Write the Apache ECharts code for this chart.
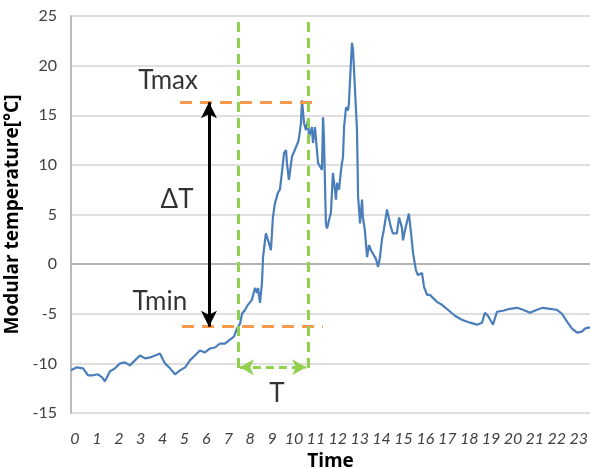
<!DOCTYPE html>
<html>
<head>
<meta charset="utf-8">
<script src="https://cdn.jsdelivr.net/npm/echarts@6/dist/echarts.min.js"></script>
<style>html,body{margin:0;padding:0;background:#fff}#c{width:590px;height:468px}</style>
</head>
<body>
<div id="c"></div>
<script>
// time in hours
const hours = [0.00,0.27,0.55,0.78,1.00,1.23,1.42,1.55,1.78,2.01,2.24,2.47,2.69,2.92,3.15,3.38,3.61,3.84,4.06,4.29,4.52,4.75,4.98,5.21,5.43,5.66,5.89,6.12,6.35,6.58,6.80,7.03,7.26,7.44,7.58,7.72,7.81,7.95,8.08,8.26,8.40,8.49,8.54,8.63,8.72,8.77,8.90,9.00,9.13,9.22,9.31,9.45,9.54,9.63,9.73,9.82,9.86,9.95,10.09,10.18,10.27,10.37,10.41,10.50,10.55,10.64,10.73,10.82,10.87,11.00,11.05,11.14,11.23,11.28,11.37,11.46,11.51,11.55,11.64,11.69,11.78,11.87,11.96,12.01,12.10,12.15,12.24,12.33,12.42,12.47,12.56,12.65,12.69,12.79,12.83,12.88,12.97,13.06,13.11,13.20,13.29,13.33,13.42,13.52,13.61,13.70,13.79,13.93,14.02,14.11,14.20,14.29,14.43,14.47,14.61,14.70,14.79,14.88,14.98,15.11,15.16,15.25,15.34,15.43,15.53,15.62,15.75,15.84,16.03,16.12,16.26,16.39,16.53,16.71,16.94,17.21,17.53,17.85,18.22,18.54,18.77,18.90,19.04,19.27,19.45,19.73,20.05,20.37,20.64,20.96,21.28,21.55,21.87,22.19,22.42,22.65,22.88,23.11,23.33,23.47,23.61,23.70];
// modular temperature [°C]
const temps = [-10.7,-10.4,-10.5,-11.2,-11.2,-11.1,-11.4,-11.8,-10.8,-10.5,-10.0,-9.9,-10.2,-9.7,-9.2,-9.5,-9.4,-9.2,-9.0,-10.0,-10.5,-11.1,-10.7,-10.4,-9.7,-9.2,-8.7,-8.9,-8.5,-8.4,-8.0,-8.0,-7.6,-7.3,-6.5,-6.0,-5.0,-4.6,-4.1,-3.6,-2.4,-2.9,-2.4,-3.9,-1.9,0.7,3.1,2.4,1.4,4.7,6.1,7.2,7.5,9.2,11.2,11.5,10.2,8.5,10.8,11.3,11.5,12.3,12.7,14.2,16.5,14.2,13.5,14.5,12.8,13.8,12.2,13.8,11.5,10.2,10.3,9.5,14.8,12.8,4.1,3.6,4.4,5.2,9.2,8.3,6.5,8.2,7.5,9.5,10.8,13.8,15.8,15.5,16.2,20.6,22.3,21.6,17.5,13.5,6.8,4.1,6.5,4.7,3.4,0.7,1.9,1.4,1.5,0.5,-0.3,0.7,2.5,3.5,5.5,5.4,3.7,3.1,3.2,3.1,4.7,3.7,2.4,3.4,3.4,5.1,3.1,1.1,-0.6,-1.1,-0.9,-2.3,-3.1,-3.1,-3.4,-3.8,-4.1,-4.6,-5.2,-5.6,-5.9,-6.1,-5.9,-4.9,-5.2,-6.1,-4.8,-4.7,-4.5,-4.4,-4.6,-4.9,-4.6,-4.4,-4.5,-4.6,-5.0,-5.8,-6.5,-6.9,-6.8,-6.5,-6.4,-6.4];
const yTicks = [-15,-10,-5,0,5,10,15,20,25];
const xTickLabels = ['0','1','2','3','4','5','6','7','8','9','10','11','12','13','14','15','16','17','18','19','20','21','22','23'];
// annotation values
const tMax = 16.3, tMin = -6.3;
const tStart = 7.63, tEnd = 10.82;
const annotTexts = [
  {x: 4.43, y: 18.5, t: 'Tmax'},
  {x: 4.84, y: 6.45, t: 'ΔT'},
  {x: 4.06, y: -3.8, t: 'Tmin'},
  {x: 9.4, y: -13.0, t: 'T'}
];

const chart = echarts.init(document.getElementById('c'));
const F = 'Lato, "Open Sans", sans-serif';
const FT = '"Open Sans", Lato, sans-serif';
const orange = '#F69A4E', green = '#92D050';
chart.setOption({
  animation: false,
  grid: {left: 71, right: 0, top: 16, bottom: 55, containLabel: false, outerBoundsMode: 'none'},
  xAxis: {
    type: 'value', min: 0, max: 23.7, interval: 1,
    name: 'Time', nameLocation: 'middle', nameGap: 32,
    nameTextStyle: {fontFamily: FT, fontWeight: 'bold', fontSize: 19, color: '#000'},
    axisLine: {show: true, lineStyle: {color: '#a6a6a6', width: 1.5}},
    axisTick: {show: false},
    splitLine: {show: false},
    axisLabel: {
      fontFamily: F, fontStyle: 'italic', fontSize: 16, color: '#404040', margin: 18,
      padding: [0, 0, 0, 8],
      formatter: v => Number.isInteger(v) && v >= 0 && v < xTickLabels.length ? xTickLabels[v] : ''
    }
  },
  yAxis: {
    type: 'value', min: yTicks[0], max: yTicks[yTicks.length - 1], interval: 5,
    name: 'Modular temperature[°C]', nameLocation: 'middle', nameGap: 27,
    nameTextStyle: {fontFamily: FT, fontWeight: 'bold', fontSize: 19, color: '#000'},
    axisLine: {show: true, lineStyle: {color: '#a6a6a6', width: 1.5}},
    axisTick: {show: false},
    splitLine: {lineStyle: {color: '#d4d4d4', width: 1.5}},
    axisLabel: {fontFamily: F, fontSize: 16, color: '#404040', margin: 14}
  },
  series: [
    {
      type: 'line',
      data: hours.map((h, i) => [h, temps[i]]),
      showSymbol: false,
      lineStyle: {color: '#4A7EBB', width: 2.2},
      z: 3,
      markLine: {
        silent: true,
        symbol: ['none', 'none'],
        label: {show: false},
        animation: false,
        data: [
          [{coord: [4.98, tMax], lineStyle: {color: orange, width: 3, type: [12, 8]}}, {coord: [11.05, tMax]}],
          [{coord: [5.07, tMin], lineStyle: {color: orange, width: 3, type: [12, 8]}}, {coord: [11.5, tMin]}],
          [{coord: [tStart, 24.4], lineStyle: {color: green, width: 3, type: [10, 6]}}, {coord: [tStart, -10.7]}],
          [{coord: [tEnd, 24.4], lineStyle: {color: green, width: 3, type: [10, 6]}}, {coord: [tEnd, -10.7]}],
          [{coord: [6.3, tMax], symbol: 'arrow', symbolSize: [12, 16], lineStyle: {color: '#000', width: 3, type: 'solid'}},
           {coord: [6.3, tMin], symbol: 'arrow', symbolSize: [12, 16]}],
          [{coord: [tStart + 0.08, -10.4], symbol: 'arrow', symbolSize: [12, 14], lineStyle: {color: green, width: 3, type: [8, 5]}, itemStyle: {color: green}},
           {coord: [tEnd - 0.08, -10.4], symbol: 'arrow', symbolSize: [12, 14], itemStyle: {color: green}}]
        ]
      }
    },
    {
      type: 'scatter',
      symbolSize: 0,
      silent: true,
      z: 5,
      data: annotTexts.map(a => [a.x, a.y, a.t]),
      label: {
        show: true, position: 'inside', formatter: p => p.value[2],
        fontFamily: F, fontSize: 26, color: '#000'
      }
    }
  ]
});
</script>
</body>
</html>
